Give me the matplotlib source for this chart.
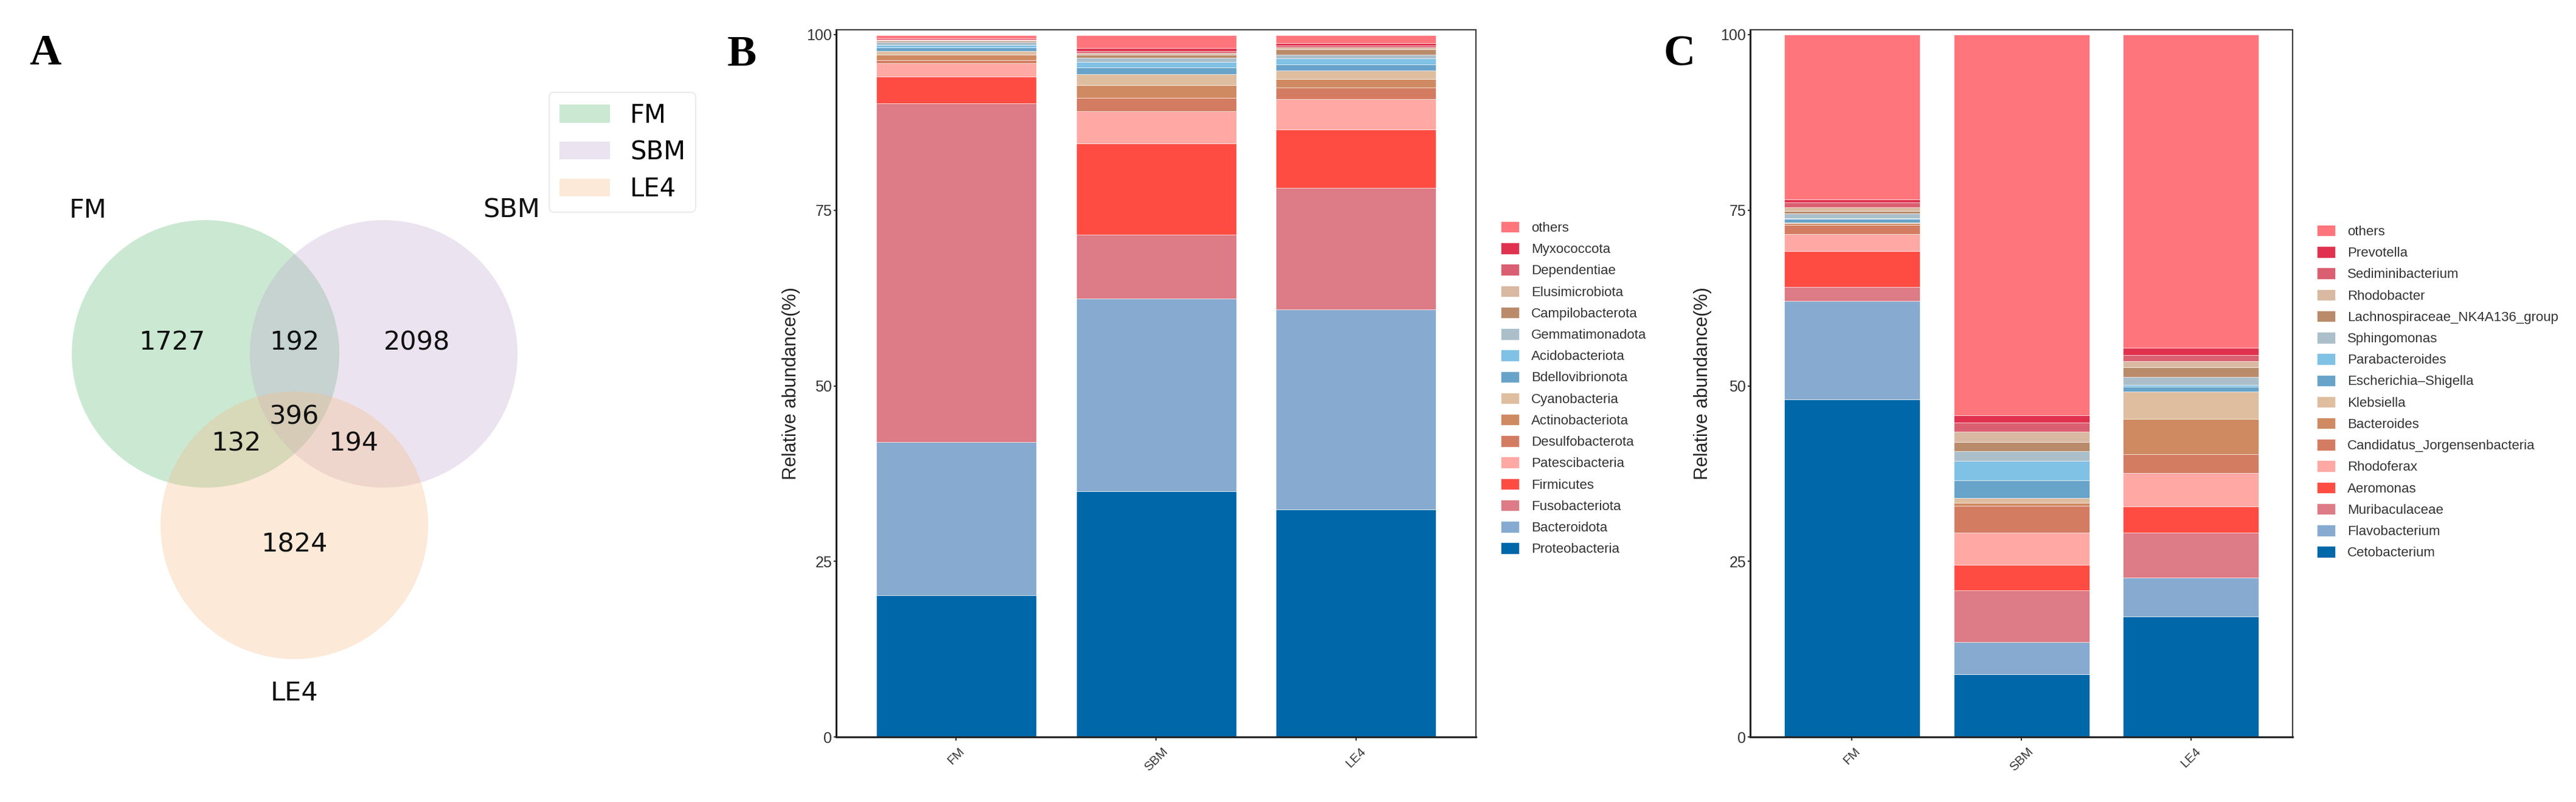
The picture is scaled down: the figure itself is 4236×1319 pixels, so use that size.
import matplotlib
matplotlib.use("Agg")
import matplotlib.pyplot as plt
import numpy as np
from matplotlib.patches import Circle, Patch

# ---------------- data ----------------
samples = ["FM", "SBM", "LE4"]

venn_sets = ["FM", "SBM", "LE4"]
# region order: FM only, SBM only, LE4 only, FM&SBM, FM&LE4, SBM&LE4, all
venn_regions = ["100", "010", "001", "110", "101", "011", "111"]
venn_counts = [1727, 2098, 1824, 192, 132, 194, 396]

# phylum level (bottom -> top)
phyla = ["Proteobacteria", "Bacteroidota", "Fusobacteriota", "Firmicutes",
         "Patescibacteria", "Desulfobacterota", "Actinobacteriota", "Cyanobacteria",
         "Bdellovibrionota", "Acidobacteriota", "Gemmatimonadota", "Campilobacterota",
         "Elusimicrobiota", "Dependentiae", "Myxococcota", "others"]
phylum_FM = [20.2, 21.8, 48.2, 3.8, 1.9, 0.5, 0.7, 0.6, 0.5, 0.35, 0.4, 0.2, 0.1, 0.1, 0.1, 0.45]
phylum_SBM = [35.0, 27.4, 9.1, 13.0, 4.6, 1.9, 1.8, 1.6, 0.9, 0.8, 0.6, 0.4, 0.3, 0.3, 0.4, 1.8]
phylum_LE4 = [32.4, 28.5, 17.3, 8.3, 4.3, 1.7, 1.2, 1.2, 0.9, 0.8, 0.5, 0.8, 0.3, 0.2, 0.4, 1.1]

# genus level (bottom -> top)
genera = ["Cetobacterium", "Flavobacterium", "Muribaculaceae", "Aeromonas",
          "Rhodoferax", "Candidatus_Jorgensenbacteria", "Bacteroides", "Klebsiella",
          "Escherichia\u2013Shigella", "Parabacteroides", "Sphingomonas",
          "Lachnospiraceae_NK4A136_group", "Rhodobacter", "Sediminibacterium",
          "Prevotella", "others"]
genus_FM = [48.06, 14.01, 2.03, 5.1, 2.4, 1.3, 0.23, 0.15, 0.49, 0.09, 0.66, 0.41, 0.52, 0.64, 0.46, 23.45]
genus_SBM = [8.9, 4.6, 7.4, 3.6, 4.6, 3.8, 0.4, 0.7, 2.5, 2.8, 1.4, 1.3, 1.5, 1.3, 1.03, 54.17]
genus_LE4 = [17.1, 5.6, 6.4, 3.7, 4.77, 2.67, 5.06, 3.86, 0.72, 0.29, 1.08, 1.36, 0.87, 0.87, 1.1, 44.55]

y_ticks = [0, 25, 50, 75, 100]

# ---------------- styles ----------------
stack_colors = ["#0067a9", "#87abd0", "#dd7b86", "#ff4c43", "#ffa8a4", "#d47c62",
                "#cf8a62", "#dfbea0", "#68a3c9", "#80c1e6", "#abbfca", "#b98b6b",
                "#d9b9a1", "#da5f70", "#e0324f", "#ff757b"]
venn_colors = ["#52b66c", "#c0a5cd", "#f8b980"]
venn_alpha = 0.3

W, H = 4236, 1319
fig = plt.figure(figsize=(W / 100, H / 100), dpi=100)
fig.patch.set_facecolor("white")

# ---------------- panel A : Venn ----------------
axA = fig.add_axes([0, 0, 1200 / W, 1])
axA.set_xlim(0, 1200)
axA.set_ylim(1319, 0)
axA.axis("off")
centers = [(338, 582), (631, 582), (484, 864)]
radius = 220
for c, col in zip(centers, venn_colors):
    axA.add_patch(Circle(c, radius, facecolor=col, alpha=venn_alpha, edgecolor="none"))
region_pos = {"100": (283, 563), "010": (686, 563), "001": (484, 896),
              "110": (484, 563), "101": (388, 730), "011": (581, 730),
              "111": (484, 686)}
for reg, cnt in zip(venn_regions, venn_counts):
    x, y = region_pos[reg]
    axA.text(x, y, str(cnt), fontsize=31, ha="center", va="center",
             family="DejaVu Sans", color="#111111")
set_label_pos = [(145, 346), (841, 346), (484, 1140)]
for name, (x, y) in zip(venn_sets, set_label_pos):
    axA.text(x, y, name, fontsize=31, ha="center", va="center",
             family="DejaVu Sans", color="#111111")
venn_handles = [Patch(facecolor=c, alpha=venn_alpha, edgecolor="none") for c in venn_colors]
legA = fig.legend(venn_handles, venn_sets, loc="upper left",
                  bbox_to_anchor=(903 / W, 1 - 152 / H), bbox_transform=fig.transFigure,
                  frameon=True, borderaxespad=0, fancybox=True, labelspacing=0.45,
                  prop={"family": "DejaVu Sans", "size": 30})
legA.get_frame().set_edgecolor("#e6e6e6")
legA.get_frame().set_linewidth(1.5)

fig.text(74 / W, 1 - 88 / H, "A", fontsize=52, fontweight="bold",
         family="Liberation Serif", ha="center", va="center")
fig.text(1220 / W, 1 - 90 / H, "B", fontsize=52, fontweight="bold",
         family="Liberation Serif", ha="center", va="center")
fig.text(2762 / W, 1 - 90 / H, "C", fontsize=52, fontweight="bold",
         family="Liberation Serif", ha="center", va="center")

# ---------------- stacked bar panels ----------------
bottom_px, top_px = 1212, 49
ax_bottom = 1 - bottom_px / H
ax_height = (bottom_px - top_px) / H
y_top = 100 * (bottom_px - top_px) / (bottom_px - 57)


def stacked(ax, names, per_sample, leg_x, leg_top, ylab_pad):
    x = np.arange(len(samples))
    bottom = np.zeros(len(samples))
    for i, name in enumerate(names):
        vals = np.array([s[i] for s in per_sample])
        ax.bar(x, vals, bottom=bottom, width=0.8, color=stack_colors[i],
               edgecolor="white", linewidth=0.4, label=name)
        bottom += vals
    ax.set_xlim(-0.6, 2.6)
    ax.set_ylim(0, y_top)
    ax.set_yticks(y_ticks)
    ax.set_xticks(x)
    ax.set_xticklabels(samples, rotation=45, ha="center", fontsize=15,
                       family="Liberation Sans", color="#333333")
    for lab in ax.get_yticklabels():
        lab.set_family("Liberation Sans")
    ax.tick_params(axis="y", labelsize=18, labelcolor="#333333", length=3, width=1.2, pad=2)
    ax.tick_params(axis="x", length=4, width=1.2, pad=6)
    ax.set_ylabel("Relative abundance(%)", fontsize=22, family="Liberation Sans",
                  color="#222222", labelpad=ylab_pad)
    for side in ["top", "right"]:
        ax.spines[side].set_linewidth(1.4)
        ax.spines[side].set_color("#333333")
    for side in ["left", "bottom"]:
        ax.spines[side].set_linewidth(2.2)
        ax.spines[side].set_color("#222222")
    h, l = ax.get_legend_handles_labels()
    fig.legend(h[::-1], l[::-1], loc="upper left",
               bbox_to_anchor=(leg_x, 1 - leg_top / H), bbox_transform=fig.transFigure,
               frameon=False, prop={"family": "Liberation Sans", "size": 16},
               handlelength=1.35, handleheight=0.9, handletextpad=0.9,
               labelspacing=0.6, borderpad=0, borderaxespad=0, labelcolor="#333333")


axB = fig.add_axes([1375 / W, ax_bottom, (2427 - 1375) / W, ax_height])
stacked(axB, phyla, [phylum_FM, phylum_SBM, phylum_LE4], 2468 / W, 364, 7)

axC = fig.add_axes([2878 / W, ax_bottom, (3770 - 2878) / W, ax_height])
stacked(axC, genera, [genus_FM, genus_SBM, genus_LE4], 3810 / W, 370, 10)

fig.savefig("out.png", dpi=100, facecolor="white")
